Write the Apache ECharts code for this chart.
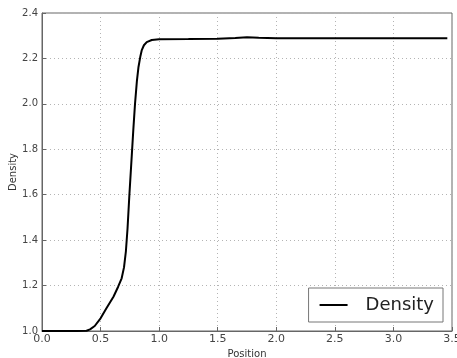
<!DOCTYPE html>
<html><head><meta charset="utf-8">
<script src="https://cdn.jsdelivr.net/npm/echarts@6/dist/echarts.min.js"></script>
<style>html,body{margin:0;padding:0;background:#fff}#c{width:457px;height:358px}</style>
</head><body><div id="c"></div>
<script>
var positions = [0, 0.1, 0.2, 0.3, 0.38, 0.41, 0.45, 0.5, 0.55, 0.61, 0.65, 0.68, 0.70, 0.716, 0.73, 0.746, 0.766, 0.78, 0.794, 0.81, 0.823, 0.84, 0.851, 0.87, 0.894, 0.937, 1.0, 1.25, 1.5, 1.65, 1.75, 1.85, 2.0, 2.5, 3.0, 3.46];
var densities = [1.0, 1.0, 1.0, 1.0, 1.001, 1.007, 1.022, 1.056, 1.100, 1.151, 1.195, 1.232, 1.28, 1.35, 1.45, 1.60, 1.77, 1.89, 2.0, 2.10, 2.16, 2.21, 2.235, 2.258, 2.272, 2.281, 2.284, 2.285, 2.287, 2.290, 2.293, 2.291, 2.289, 2.289, 2.289, 2.289];
var xTicks = [0, 0.5, 1.0, 1.5, 2.0, 2.5, 3.0, 3.5];
var yTicks = [1.0, 1.2, 1.4, 1.6, 1.8, 2.0, 2.2, 2.4];
var seriesName = 'Density';

var data = positions.map(function(p, i){ return [p, densities[i]]; });
var chart = echarts.init(document.getElementById('c'));
var font = 'DejaVu Sans';
chart.setOption({
  animation: false,
  grid: {left: 42, right: 5, top: 13, bottom: 27, containLabel: false, outerBoundsMode: 'none', show: true, borderColor: '#666', borderWidth: 1},
  xAxis: {
    type: 'value', min: xTicks[0], max: xTicks[xTicks.length-1], interval: 0.5,
    name: 'Position', nameLocation: 'middle', nameGap: 17,
    nameTextStyle: {fontFamily: font, fontSize: 10, color: '#333'},
    axisLine: {show: true, lineStyle: {color: '#666'}},
    axisTick: {show: true, inside: true, length: 4, lineStyle: {color: '#666'}},
    axisLabel: {fontFamily: font, fontSize: 11, color: '#444', margin: 3, formatter: function(v){ return v.toFixed(1); }},
    splitLine: {show: true, lineStyle: {color: '#b4b4b4', type: [1, 3], width: 1}}
  },
  yAxis: {
    type: 'value', min: yTicks[0], max: yTicks[yTicks.length-1], interval: 0.2,
    name: 'Density', nameLocation: 'middle', nameGap: 24, nameMoveOverlap: false,
    nameTextStyle: {fontFamily: font, fontSize: 10, color: '#333'},
    axisLine: {show: true, lineStyle: {color: '#666'}},
    axisTick: {show: true, inside: true, length: 4, lineStyle: {color: '#666'}},
    axisLabel: {fontFamily: font, fontSize: 10, color: '#444', margin: 4, formatter: function(v){ return v.toFixed(1); }},
    splitLine: {show: true, lineStyle: {color: '#b4b4b4', type: [1, 3], width: 1}}
  },
  legend: {
    right: 14, bottom: 36, orient: 'vertical',
    borderColor: '#777', borderWidth: 1, borderRadius: 0,
    padding: [8, 9, 8, 11], backgroundColor: '#fff',
    icon: 'rect', itemWidth: 28, itemHeight: 2, itemGap: 0,
    textStyle: {fontFamily: font, fontSize: 18, color: '#222', padding: [0, 0, 0, 13]},
    data: [{name: seriesName, itemStyle: {color: '#000'}}]
  },
  series: [{
    name: seriesName, type: 'line', data: data, showSymbol: false, symbol: 'none',
    lineStyle: {color: '#000', width: 2}, itemStyle: {color: '#000'}
  }]
});
</script></body></html>
